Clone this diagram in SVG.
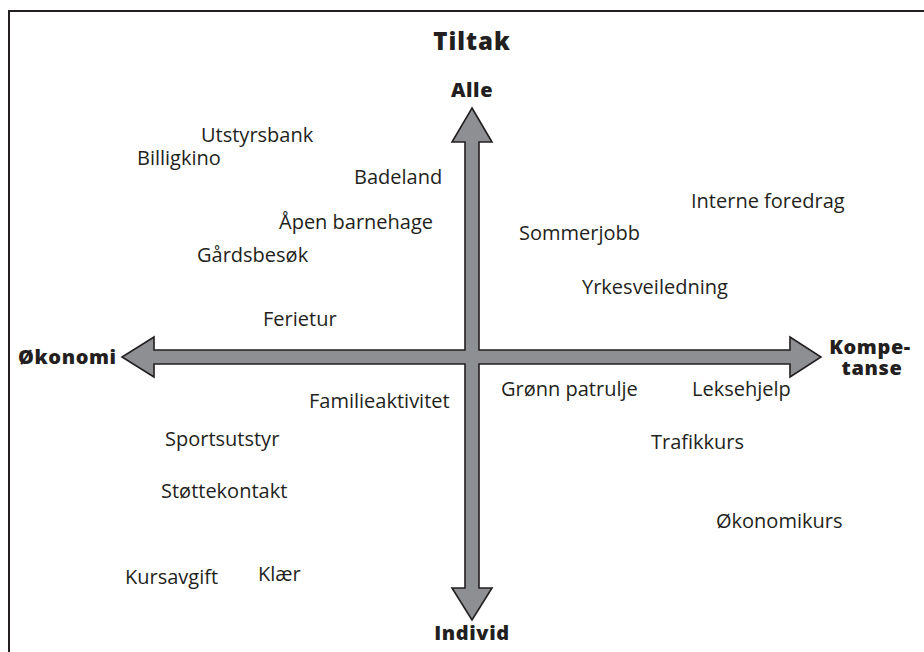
<svg xmlns="http://www.w3.org/2000/svg" width="924" height="652" viewBox="0 0 924 652">
<style>
.lbl{font-family:"Open Sans","Liberation Sans",sans-serif;font-size:20px;fill:#231f20}
.ax{font-family:"Open Sans","Liberation Sans",sans-serif;font-size:20px;font-weight:800;letter-spacing:0.6px;fill:#231f20}
.title{font-family:"Open Sans","Liberation Sans",sans-serif;font-size:24px;font-weight:800;letter-spacing:1px;fill:#231f20}
.arrow{fill:#8e8f93;stroke:#231f20;stroke-width:1.6;stroke-linejoin:miter}
</style>
<rect width="924" height="652" fill="#fff"/>
<rect x="9" y="11" width="940" height="660" fill="none" stroke="#231f20" stroke-width="2"/>
<g id="title"><text class="title" x="472" y="50" text-anchor="middle">Tiltak</text></g>
<g id="connectors">
<path class="arrow" d="M472,108 L492,142 L479,142 L479,350 L790,350 L790,337 L821,357 L790,377 L790,364 L479,364 L479,588 L492,588 L472,620 L452,588 L465,588 L465,364 L154,364 L154,377 L122,357 L154,337 L154,350 L465,350 L465,142 L452,142 Z"/>
</g>
<g id="axis-alle"><text class="ax" x="472" y="97" text-anchor="middle">Alle</text></g>
<g id="axis-individ"><text class="ax" x="472" y="640" text-anchor="middle">Individ</text></g>
<g id="axis-okonomi"><text class="ax" x="18" y="364">Økonomi</text></g>
<g id="axis-kompetanse"><text class="ax" x="870" y="354" text-anchor="middle">Kompe-</text><text class="ax" x="872" y="375" text-anchor="middle">tanse</text></g>
<g id="n-utstyrsbank"><text class="lbl" x="201" y="142">Utstyrsbank</text></g>
<g id="n-billigkino"><text class="lbl" x="137" y="165">Billigkino</text></g>
<g id="n-badeland"><text class="lbl" x="354" y="184">Badeland</text></g>
<g id="n-apen-barnehage"><text class="lbl" x="279" y="229">Åpen barnehage</text></g>
<g id="n-interne-foredrag"><text class="lbl" x="691" y="208">Interne foredrag</text></g>
<g id="n-sommerjobb"><text class="lbl" x="519" y="240">Sommerjobb</text></g>
<g id="n-gardsbesok"><text class="lbl" x="197" y="262">Gårdsbesøk</text></g>
<g id="n-yrkesveiledning"><text class="lbl" x="582" y="294">Yrkesveiledning</text></g>
<g id="n-ferietur"><text class="lbl" x="263" y="326">Ferietur</text></g>
<g id="n-familieaktivitet"><text class="lbl" x="309" y="408">Familieaktivitet</text></g>
<g id="n-gronn-patrulje"><text class="lbl" x="501" y="396">Grønn patrulje</text></g>
<g id="n-leksehjelp"><text class="lbl" x="692" y="396">Leksehjelp</text></g>
<g id="n-sportsutstyr"><text class="lbl" x="165" y="446">Sportsutstyr</text></g>
<g id="n-trafikkurs"><text class="lbl" x="651" y="449">Trafikkurs</text></g>
<g id="n-stottekontakt"><text class="lbl" x="161" y="498">Støttekontakt</text></g>
<g id="n-okonomikurs"><text class="lbl" x="716" y="528">Økonomikurs</text></g>
<g id="n-kursavgift"><text class="lbl" x="125" y="584">Kursavgift</text></g>
<g id="n-klaer"><text class="lbl" x="258" y="581">Klær</text></g>
</svg>
